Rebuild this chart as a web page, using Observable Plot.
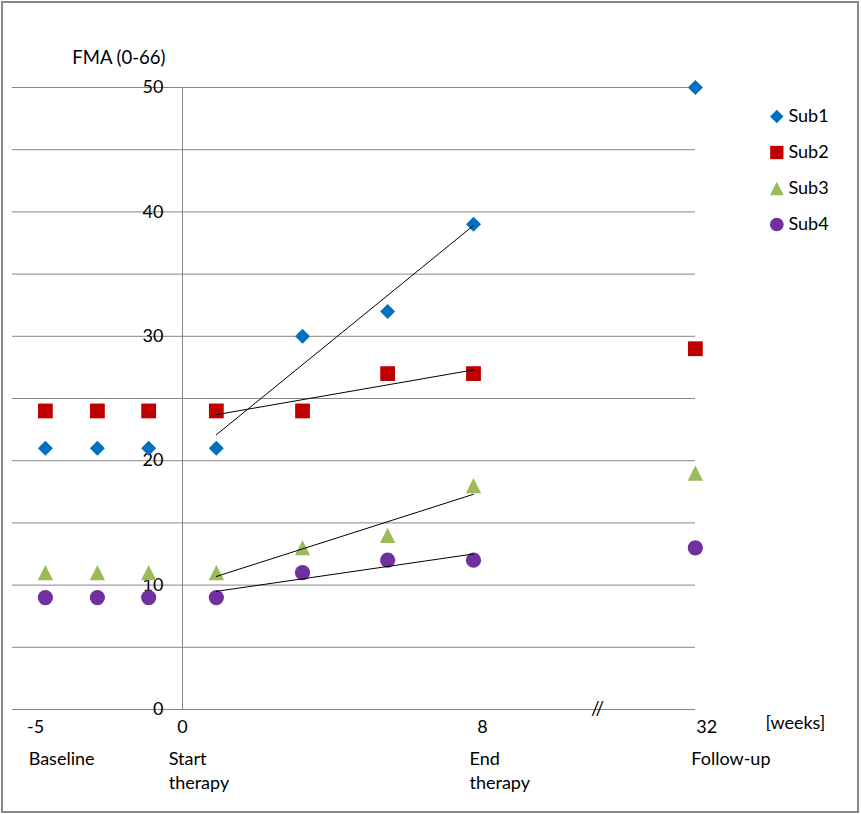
<!DOCTYPE html>
<html>
<head>
<meta charset="utf-8">
<script src="https://cdn.jsdelivr.net/npm/d3@7"></script>
<script src="https://cdn.jsdelivr.net/npm/@observablehq/plot@0.6"></script>
<style>
html, body { margin: 0; padding: 0; background: #fff; }
#chart { position: relative; width: 861px; height: 814px; overflow: hidden; }
#chart svg { position: absolute; left: 0; top: 0; }
#chart::after { content: ""; position: absolute; left: 1px; top: 1px; width: 854px; height: 808px; border: 2px solid #888; pointer-events: none; }
</style>
</head>
<body>
<div id="chart"></div>
<script>
// ---- data ----
const seriesNames = ["Sub1", "Sub2", "Sub3", "Sub4"];
// horizontal position of each assessment (weeks axis, as drawn)
const assessPos = [-3.77, -2.34, -0.93, 0.93, 3.30, 5.64, 8.0, 14.1];
const assessPhase = ["baseline", "baseline", "baseline", "therapy", "therapy", "therapy", "therapy", "follow-up"];
const sub1 = [21, 21, 21, 21, 30, 32, 39, 50];
const sub2 = [24, 24, 24, 24, 24, 27, 27, 29];
const sub3 = [11, 11, 11, 11, 13, 14, 18, 19];
const sub4 = [9, 9, 9, 9, 11, 12, 12, 13];
const seriesValues = [sub1, sub2, sub3, sub4];
const seriesColors = ["#0070C0", "#C00000", "#9BBB59", "#7030A0"];

const yTickValues = [0, 10, 20, 30, 40, 50];
const yGridValues = [0, 5, 10, 15, 20, 25, 30, 35, 40, 45, 50];
const xTickLabels = ["-5", "0", "8", "32"];
const xTickPos = [-4.04, 0, 8.25, 14.41];
const phaseLabels = ["Baseline", "Start\ntherapy", "End\ntherapy", "Follow-up"];
const phaseLabelPos = [-4.23, -0.38, 7.89, 13.99];
const yTitle = "FMA (0-66)";
const xUnit = "[weeks]";
const xUnitPos = 16.85;
const breakMark = "//";
const breakPos = 11.41;

// ---- custom marker shapes (Excel-like) ----
const rad = (size) => Math.sqrt(size / Math.PI);
const symDiamond = { draw(c, size) { const r = rad(size); c.moveTo(0, -r); c.lineTo(r, 0); c.lineTo(0, r); c.lineTo(-r, 0); c.closePath(); } };
const symSquare = { draw(c, size) { const r = rad(size); c.rect(-r, -r, 2 * r, 2 * r); } };
const symTriangle = { draw(c, size) { const r = rad(size); const h = r * 0.98; c.moveTo(0, -h); c.lineTo(r, h); c.lineTo(-r, h); c.closePath(); } };
const symCircle = { draw(c, size) { const r = rad(size); c.moveTo(r, 0); c.arc(0, 0, r, 0, 2 * Math.PI); } };
const seriesSymbols = [symDiamond, symSquare, symTriangle, symCircle];
const seriesR = [7.5, 7.4, 7.7, 7.6];

// ---- table ----
const rows = [];
seriesNames.forEach((s, i) => seriesValues[i].forEach((v, j) => rows.push({ series: s, x: assessPos[j], y: v, phase: assessPhase[j] })));
const therapyRows = rows.filter(d => d.phase === "therapy");

const xMin = -4.674, xMax = 14.104;
const legendX = 16.34, legendTextX = 16.66, legendTop = 47.67, legendStep = 2.894;
const legendRows = seriesNames.map((s, i) => ({ series: s, i, y: legendTop - i * legendStep }));

const marks = [
  Plot.ruleY(yGridValues, { stroke: "#868686", strokeWidth: 1 }),
  Plot.ruleX([0], { y1: 0, y2: 50, stroke: "#868686", strokeWidth: 1 }),
  Plot.text(yTickValues, { x: 0, y: d => d, text: d => String(d), textAnchor: "end", dx: -19, fontSize: 18, fill: "#000" }),
  Plot.text([yTitle], { x: 0, y: 50, text: d => d, textAnchor: "end", dx: -17, dy: -29, fontSize: 18.5, fill: "#000" }),
  Plot.text(xTickLabels, { x: (d, i) => xTickPos[i], y: 0, text: d => d, dy: 18, fontSize: 18, fill: "#000" }),
  Plot.text([xUnit], { x: xUnitPos, y: 0, text: d => d, dy: 14, fontSize: 18, fill: "#000" }),
  Plot.text([breakMark], { x: breakPos, y: 0, text: d => d, dy: -1, fontSize: 19, fill: "#000" }),
  Plot.text(phaseLabels, { x: (d, i) => phaseLabelPos[i], y: 0, text: d => d, textAnchor: "start", lineAnchor: "top", dy: 38, lineHeight: 1.36, fontSize: 18, fill: "#000" })
];
seriesNames.forEach((s, i) => {
  marks.push(Plot.dot(rows.filter(d => d.series === s), { x: "x", y: "y", symbol: seriesSymbols[i], r: seriesR[i], fill: seriesColors[i], stroke: "none" }));
  marks.push(Plot.dot(legendRows.filter(d => d.series === s), { x: legendX, y: "y", symbol: seriesSymbols[i], r: seriesR[i] * 0.9, fill: seriesColors[i], stroke: "none" }));
});
marks.push(Plot.text(legendRows, { x: legendTextX, y: "y", text: "series", textAnchor: "start", fontSize: 18, fill: "#000" }));
marks.push(Plot.linearRegressionY(therapyRows, { x: "x", y: "y", z: "series", stroke: "#000", strokeWidth: 1, ci: 0 }));

const chart = Plot.plot({
  width: 861,
  height: 814,
  marginLeft: 12,
  marginRight: 166,
  marginTop: 87,
  marginBottom: 105,
  x: { domain: [xMin, xMax], axis: null },
  y: { domain: [0, 50], axis: null },
  style: { fontFamily: "Lato, 'Open Sans', sans-serif", fontSize: "18px", background: "transparent", color: "#000", overflow: "visible" },
  marks
});
document.getElementById("chart").appendChild(chart);
</script>
</body>
</html>
